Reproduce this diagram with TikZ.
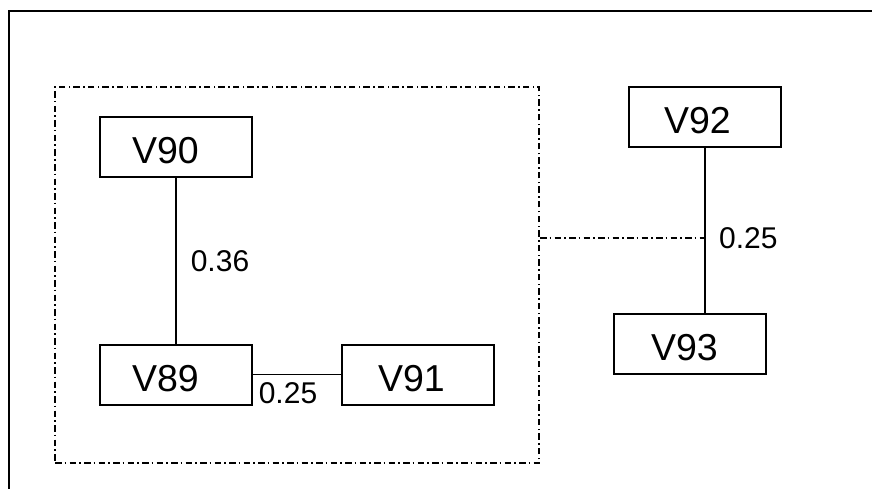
\documentclass[tikz,border=0pt]{standalone}
\usepackage{fontspec}
\setmainfont{Liberation Sans}
\begin{document}
\begin{tikzpicture}[x=1pt,y=-1pt,
  vbox/.style={draw, line width=2pt, inner xsep=#1, inner ysep=0pt,
    text width=152pt-2*#1, align=left, minimum height=60pt,
    text height=33pt, text depth=0pt,
    font=\fontsize{37.5}{40}\selectfont},
  wlab/.style={inner sep=0pt, font=\fontsize{30}{32}\selectfont},
  conn/.style={line width=1.6pt},
  dashdot/.style={line width=2pt, dash pattern=on 6.5pt off 3pt on 1.5pt off 3.5pt}]
\useasboundingbox (0,0) rectangle (872,489);
% outer frame (top and left edges)
\coordinate (fTL) at (9,11);
\coordinate (fTR) at (872,11);
\coordinate (fBL) at (9,489);
\draw[line width=2.2pt] (fBL) -- (fTL) -- (fTR);
% group
\node[dashdot, draw, minimum width=484pt, minimum height=376pt, inner sep=0pt] (grp) at (297,275) {};
% vertices
\node[vbox=32pt] (V90) at (176,147.5) {V90};
\node[vbox=32pt] (V89) at (176,374.5) {V89};
\node[vbox=36pt] (V91) at (418,374.5) {V91};
\node[vbox=35pt] (V92) at (705,117.5) {V92};
\node[vbox=37pt] (V93) at (690,344) {V93};
% edges
\draw[conn] (V90) -- node[wlab, anchor=west, xshift=14pt] {0.36} (V89);
\draw[conn] (V89) -- node[wlab, pos=0, anchor=west, xshift=5pt, yshift=-19pt] {0.25} (V91);
\coordinate (j) at (705,238);
\draw[conn] (V92.south) -- (V92.south |- V93.north);
\node[wlab, anchor=west] (l9293) at ([xshift=14pt]j) {0.25};
\draw[dashdot] (grp.east |- j) -- (j);
\end{tikzpicture}
\end{document}
